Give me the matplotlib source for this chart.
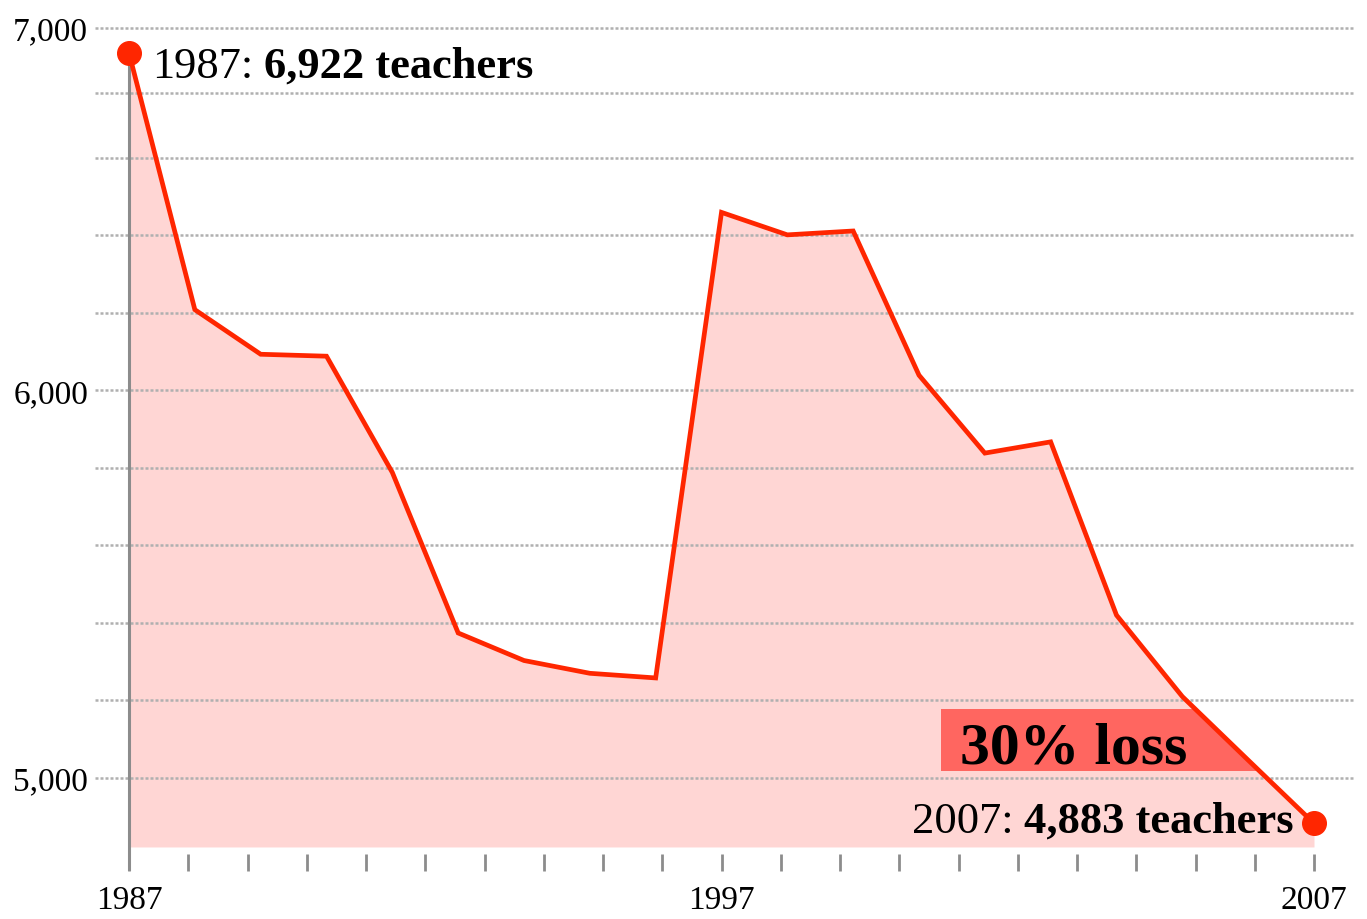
import matplotlib
matplotlib.use("Agg")
import matplotlib.pyplot as plt
import numpy as np
from matplotlib.patches import Rectangle
from matplotlib.ticker import FixedLocator, FuncFormatter

# liczba nauczycieli
teachers = [6922, 6208, 6093, 6088, 5788, 5374, 5303, 5270, 5258, 6459,
            6401, 6411, 6039, 5838, 5867, 5420, 5210, 5046, 4883]
first_year = 1987
last_year = 2007
year_labels = ["1987", "1997", "2007"]
grid_values = list(range(5000, 7001, 200))
loss_text = "30% loss"

red = "#ff2600"
pink = "#ffd6d4"
box_red = "#ff6660"
gray = "#8c8c8c"

plt.rcParams["font.family"] = ["Liberation Serif", "DejaVu Serif"]


# skala osi y: powyzej 6600 gesciej (tak jak w oryginale)
def fwd(v):
    v = np.asarray(v, dtype=float)
    return np.where(v > 6600, 6600 + (v - 6600) * 0.839, v)


def inv(u):
    u = np.asarray(u, dtype=float)
    return np.where(u > 6600, 6600 + (u - 6600) / 0.839, u)


def main():
    fig = plt.figure(figsize=(13.67, 9.2), dpi=100)
    ax = fig.add_axes([95 / 1367, 48 / 920, 1260 / 1367, 872 / 920])

    x = np.linspace(first_year, last_year, len(teachers))
    y = np.array(teachers)
    base = 4822

    ax.set_yscale("function", functions=(fwd, inv))
    ax.set_xlim(1986.426, 2007.692)
    ax.set_ylim(4760, 7088)

    fill = ax.fill_between(x, y, base, color=pink, lw=0, zorder=1)
    ax.plot(x, y, color=red, lw=3.4, zorder=4, solid_joinstyle="miter")
    ax.plot([x[0], x[-1]], [y[0], y[-1]], "o", color=red, ms=17, zorder=6,
            clip_on=False)

    # os pionowa
    ax.vlines(first_year, 4760, y[0], color=gray, lw=2.2, zorder=2)

    # prostokat "30% loss" przyciety do obszaru pod wykresem
    box = Rectangle((2000.7, 5018), 6.5, 160, facecolor=box_red, lw=0, zorder=3)
    ax.add_patch(box)
    box.set_clip_path(fill.get_paths()[0], transform=ax.transData)
    ax.text(2001.03, 5041, loss_text, fontsize=43, fontweight="bold",
            va="baseline", ha="left", zorder=5)

    # siatka
    ax.yaxis.set_major_locator(FixedLocator(grid_values))
    ax.yaxis.set_major_formatter(FuncFormatter(
        lambda v, p: f"{v:,.0f}" if v % 1000 == 0 else ""))
    ax.grid(axis="y", color="#b0b0b0", lw=1.8, linestyle=(0, (1.2, 0.8)))
    ax.set_axisbelow("line")
    ax.tick_params(axis="y", length=0, pad=5, labelsize=24)

    years = list(range(first_year, last_year + 1))
    ax.xaxis.set_major_locator(FixedLocator(years))
    ax.xaxis.set_major_formatter(FuncFormatter(
        lambda v, p: str(int(round(v))) if str(int(round(v))) in year_labels else ""))
    ax.tick_params(axis="x", direction="in", length=12.2, width=2,
                   color=gray, pad=10, labelsize=24)

    for s in ax.spines.values():
        s.set_visible(False)

    # podpisy punktow
    t1 = ax.text((152 - 95) / 1260, (872 - 78) / 872, "1987:", fontsize=32,
                 transform=ax.transAxes, va="baseline", ha="left")
    ax.annotate(f"{teachers[0]:,} teachers", xy=(1, 0), xycoords=t1,
                xytext=(8, 0), textcoords="offset points",
                fontsize=32, fontweight="bold", va="bottom", ha="left")

    t2 = ax.text((1294 - 95) / 1260, (872 - 833) / 872,
                 f"{teachers[-1]:,} teachers", fontsize=32, fontweight="bold",
                 transform=ax.transAxes, va="baseline", ha="right", zorder=5)
    ax.annotate("2007:", xy=(0, 0), xycoords=t2,
                xytext=(-8, 0), textcoords="offset points",
                fontsize=32, va="bottom", ha="right", zorder=5)

    fig.savefig("out.png", dpi=100)


if __name__ == '__main__':
    main()
